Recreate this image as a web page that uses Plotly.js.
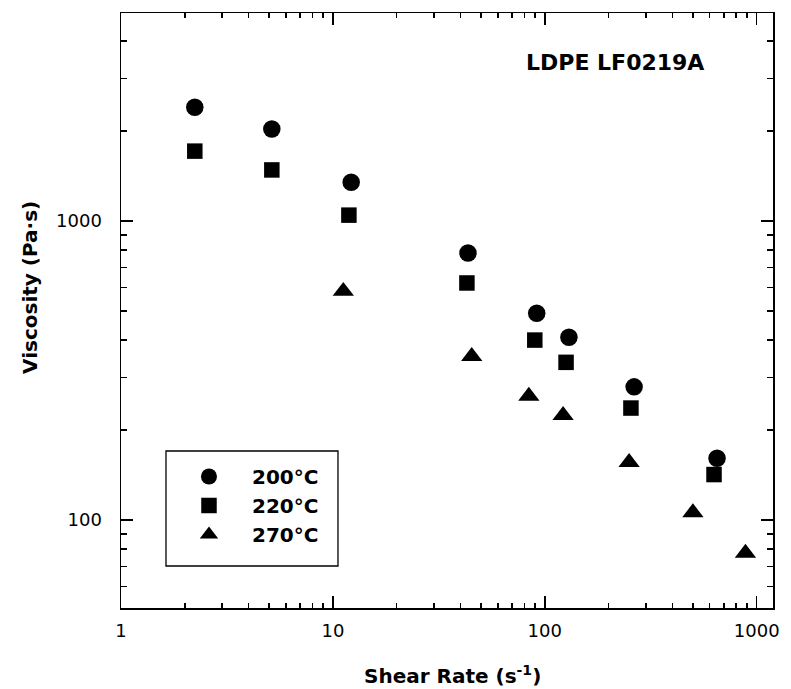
<!DOCTYPE html>
<html>
<head>
<meta charset="utf-8">
<script src="https://cdn.plot.ly/plotly-3.0.1.min.js"></script>
<style>html,body{margin:0;padding:0;background:#fff;}#chart{width:791px;height:689px;}</style>
</head>
<body>
<div id="chart"></div>
<script>
// Data
const seriesNames = ["200°C", "220°C", "270°C"];
const shear200 = [2.23, 5.15, 12.2, 43.4, 91.6, 130, 264, 650];
const visc200  = [2404, 2032, 1349, 782, 492, 409, 279, 161];
const shear220 = [2.23, 5.15, 11.9, 42.9, 89.7, 126, 255, 629];
const visc220  = [1714, 1483, 1047, 621, 400, 337, 237, 142];
const shear270 = [11.2, 45.2, 84.1, 122, 250, 500, 885];
const visc270  = [583, 353, 260, 224, 156, 106, 77.6];

const xTickVals = [1, 10, 100, 1000];
const xTickText = ["1", "10", "100", "1000"];
const yTickVals = [100, 1000];
const yTickText = ["100", "1000"];
const xMinorVals = [2,3,4,5,6,7,8,9,20,30,40,50,60,70,80,90,200,300,400,500,600,700,800,900];
const yMinorVals = [60,70,80,90,200,300,400,500,600,700,800,900,2000,3000,4000];

const sans = "DejaVu Sans, Liberation Sans, Arial, sans-serif";

function trace(x, y, name, symbol, size, group) {
  return {
    x: x, y: y, name: name, type: "scatter", mode: "markers",
    legendgroup: group,
    marker: {symbol: symbol, size: size, color: "#000", line: {width: 0}}
  };
}

const data = [
  trace(shear200, visc200, seriesNames[0], "circle", 17.5, "a"),
  trace(shear220, visc220, seriesNames[1], "square", 15.5, "b"),
  trace(shear270, visc270, seriesNames[2], "triangle-up", 18.5, "c")
];

const axisCommon = {
  type: "log",
  showgrid: false, zeroline: false,
  showline: true, linecolor: "#000", linewidth: 1.5,
  mirror: "allticks",
  ticks: "inside", ticklen: 12, tickwidth: 1.5, tickcolor: "#000",
  tickmode: "array",
  tickfont: {family: sans, size: 18, color: "#000"}
};

const layout = {
  width: 791, height: 689,
  margin: {l: 121, r: 18, t: 13, b: 81},
  paper_bgcolor: "#fff", plot_bgcolor: "#fff",
  showlegend: true,
  legend: {
    x: 0.069, y: 0.2538, xanchor: "left", yanchor: "top",
    borderwidth: 0, bgcolor: "rgba(0,0,0,0)",
    font: {family: sans, size: 20, color: "#000", weight: "bold"},
    itemwidth: 76, tracegroupgap: 9,
    traceorder: "normal"
  },
  shapes: [
    {type: "rect", xref: "paper", yref: "paper", x0: 0.069, x1: 0.3328, y0: 0.0706, y1: 0.2639,
     line: {color: "#000", width: 1.3}, fillcolor: "rgba(0,0,0,0)"}
  ],
  xaxis: Object.assign({}, axisCommon, {
    range: [0, 3.077],
    tickvals: xTickVals, ticktext: xTickText,
    ticklabelstandoff: 6,
    minor: {tickmode: "array", tickvals: xMinorVals, ticks: "inside", ticklen: 5, tickwidth: 1.5, tickcolor: "#000"}
  }),
  yaxis: Object.assign({}, axisCommon, {
    range: [1.706, 3.696],
    tickvals: yTickVals, ticktext: yTickText,
    ticklabelstandoff: 14,
    minor: {tickmode: "array", tickvals: yMinorVals, ticks: "inside", ticklen: 6, tickwidth: 1.5, tickcolor: "#000"}
  }),
  annotations: [
    {text: "Shear Rate (s<sup>-1</sup>)", xref: "paper", yref: "paper", x: 0.5077, y: -0.1126,
     xanchor: "center", yanchor: "middle", showarrow: false,
     font: {family: sans, size: 20, color: "#000", weight: "bold"}},
    {text: "Viscosity (Pa·s)", xref: "paper", yref: "paper", x: -0.1396, y: 0.5395,
     xanchor: "center", yanchor: "middle", showarrow: false, textangle: -90,
     font: {family: sans, size: 20, color: "#000", weight: "bold"}},
    {text: "LDPE LF0219A", xref: "paper", yref: "paper", x: 0.7577, y: 0.916,
     xanchor: "center", yanchor: "middle", showarrow: false,
     font: {family: sans, size: 22, color: "#000", weight: "bold"}}
  ]
};

Plotly.newPlot("chart", data, layout, {displayModeBar: false, staticPlot: true});
</script>
</body>
</html>
